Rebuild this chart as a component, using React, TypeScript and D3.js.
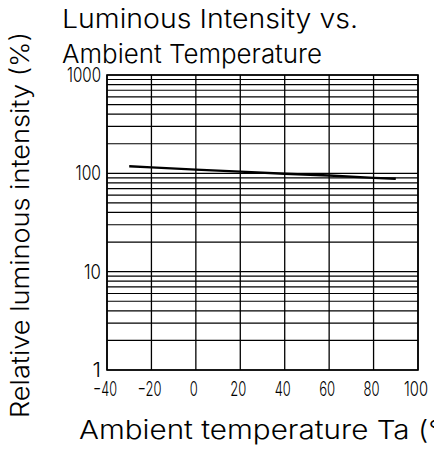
import { useEffect } from "react";
import * as d3 from "d3";

// curve (temperature °C -> relative intensity %)
const temps = [-30, -20, 0, 20, 40, 60, 80, 90];
const intensity = [118, 115, 109, 104, 99, 95, 90, 88];

const xTicks = [-40, -20, 0, 20, 40, 60, 80, 100];
const yTicks = [1, 10, 100, 1000];

const titleLines = ["Luminous Intensity vs.", "Ambient Temperature"];
const xLabel = "Ambient temperature Ta (°C)";
const yLabel = "Relative luminous intensity (%)";

const W = 434;
const H = 451;
const FONT = "Inter, 'DejaVu Sans', sans-serif";
const WEIGHT = 300;

export default function App() {
  useEffect(() => {
    document.body.style.margin = "0";
  }, []);

  const x = d3.scaleLinear().domain([-40, 100]).range([107, 418]);
  const y = d3.scaleLog().domain([1, 1000]).range([370, 75]);

  // minor log gridlines 2..9 per decade
  const minor: number[] = [];
  for (const dec of [1, 10, 100]) {
    for (let k = 2; k <= 9; k++) minor.push(dec * k);
  }

  const line = d3
    .line<number>()
    .x((_, i) => x(temps[i]))
    .y((d) => y(d));

  const txt = { fontFamily: FONT, fontWeight: WEIGHT, fill: "#000" };

  return (
    <svg width={W} height={H} style={{ display: "block", background: "#fff" }}>
      {/* title */}
      <text x={62} y={28} {...txt} fontSize={26} textLength={296} lengthAdjust="spacingAndGlyphs">
        {titleLines[0]}
      </text>
      <text x={62} y={63} {...txt} fontSize={26} textLength={260} lengthAdjust="spacingAndGlyphs">
        {titleLines[1]}
      </text>

      {/* grid */}
      <g stroke="#000">
        {minor.map((v) => (
          <line key={"m" + v} x1={x(-40)} x2={x(100)} y1={y(v)} y2={y(v)} strokeWidth={1.2} />
        ))}
        {yTicks.map((v) => (
          <line key={"y" + v} x1={x(-40)} x2={x(100)} y1={y(v)} y2={y(v)} strokeWidth={1.2} />
        ))}
        {xTicks.map((v) => (
          <line key={"x" + v} x1={x(v)} x2={x(v)} y1={y(1)} y2={y(1000)} strokeWidth={1.3} />
        ))}
        <rect x={x(-40)} y={y(1000)} width={x(100) - x(-40)} height={y(1) - y(1000)} fill="none" strokeWidth={1.6} />
      </g>

      {/* curve */}
      <path d={line(intensity) || ""} fill="none" stroke="#000" strokeWidth={2.4} />

      {/* y tick labels */}
      {yTicks.map((v) => {
        const s = String(v);
        return (
          <text key={"yl" + v} x={101} y={y(v) + 7} textAnchor="end" {...txt} fontSize={20} textLength={s.length * 8.5} lengthAdjust="spacingAndGlyphs">
            {s}
          </text>
        );
      })}

      {/* x tick labels */}
      {xTicks.map((v) => {
        const s = v < 0 ? "\u2212" + Math.abs(v) : String(v);
        return (
          <text key={"xl" + v} x={x(v) - 2} y={396} textAnchor="middle" {...txt} fontSize={20} textLength={s.length * 8} lengthAdjust="spacingAndGlyphs">
            {s}
          </text>
        );
      })}

      {/* axis titles */}
      <text x={79} y={439} {...txt} fontSize={26} textLength={xLabel.length * 14.6} lengthAdjust="spacingAndGlyphs">
        {xLabel}
      </text>
      <text transform="translate(29,418) rotate(-90)" {...txt} fontSize={25} textLength={386} lengthAdjust="spacingAndGlyphs">
        {yLabel}
      </text>
    </svg>
  );
}
